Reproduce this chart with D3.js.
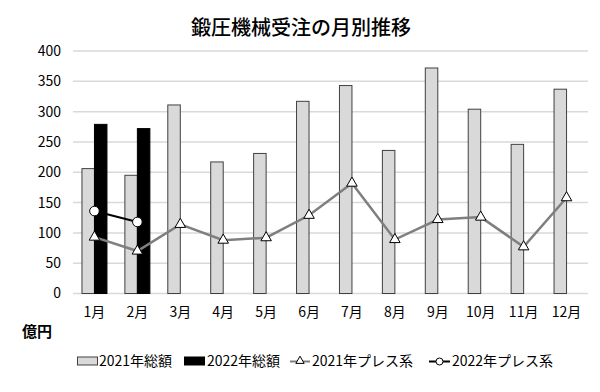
<!DOCTYPE html>
<html lang="ja">
  <head>
    <meta charset="utf-8" />
    <title>鍛圧機械受注の月別推移</title>
    <script src="https://d3js.org/d3.v7.min.js"></script>
    <style>
      body { margin: 0; background: #fff; }
      text { font-family: "Noto Sans CJK JP", "Noto Sans", sans-serif; fill: #000; }
    </style>
  </head>
  <body>
    <div id="chart"></div>
    <script>
      // Data (unit: 億円)
      const months = ["1月", "2月", "3月", "4月", "5月", "6月", "7月", "8月", "9月", "10月", "11月", "12月"];
      const total2021 = [206, 195, 311, 217, 231, 317, 343, 236, 372, 304, 246, 337];
      const total2022 = [279, 272];
      const press2021 = [93, 70, 114, 88, 92, 129, 182, 89, 122, 126, 77, 158];
      const press2022 = [136, 118];
      const yTicks = [0, 50, 100, 150, 200, 250, 300, 350, 400];

      const W = 600, H = 392;
      const plot = { left: 73, right: 588, top: 51, bottom: 293.5 };
      const barW = 12.5;

      const svg = d3.select("#chart").append("svg")
        .attr("width", W).attr("height", H);

      const x = d3.scaleBand().domain(months).range([plot.left, plot.right]);
      const y = d3.scaleLinear().domain([0, 400]).range([plot.bottom, plot.top]);
      const cx = (i) => x(months[i]) + x.bandwidth() / 2;

      // Title
      svg.append("text")
        .attr("x", 301).attr("y", 35)
        .attr("text-anchor", "middle")
        .style("font-size", "20px")
        .style("font-weight", 500)
        .text("鍛圧機械受注の月別推移");

      // Gridlines
      svg.append("g")
        .selectAll("line")
        .data(yTicks)
        .join("line")
        .attr("x1", plot.left).attr("x2", plot.right)
        .attr("y1", (d) => y(d)).attr("y2", (d) => y(d))
        .attr("stroke", "#d9d9d9")
        .attr("stroke-width", 1.5);

      // Y axis labels
      const yAxis = svg.append("g")
        .attr("transform", `translate(${plot.left},0)`)
        .call(d3.axisLeft(y).tickValues(yTicks).tickSize(0).tickPadding(12));
      yAxis.select(".domain").remove();
      yAxis.selectAll("text")
        .style("font-size", "14px")
        .style("font-family", "'Noto Sans CJK JP', sans-serif");

      // X axis labels
      const xAxis = svg.append("g")
        .attr("transform", `translate(0,${plot.bottom})`)
        .call(d3.axisBottom(x).tickSize(0).tickPadding(14));
      xAxis.select(".domain").remove();
      xAxis.selectAll("text")
        .style("font-size", "14px")
        .style("font-family", "'Noto Sans CJK JP', sans-serif");

      // Unit label
      svg.append("text")
        .attr("x", 22).attr("y", 337)
        .style("font-size", "15px")
        .style("font-weight", 700)
        .text("億円");

      // Bars 2021
      svg.append("g")
        .selectAll("rect")
        .data(total2021)
        .join("rect")
        .attr("x", (d, i) => cx(i) - barW)
        .attr("y", (d) => y(d))
        .attr("width", barW)
        .attr("height", (d) => y(0) - y(d))
        .attr("fill", "#d9d9d9")
        .attr("stroke", "#404040")
        .attr("stroke-width", 1);

      // Bars 2022
      svg.append("g")
        .selectAll("rect")
        .data(total2022)
        .join("rect")
        .attr("x", (d, i) => cx(i))
        .attr("y", (d) => y(d))
        .attr("width", barW)
        .attr("height", (d) => y(0) - y(d))
        .attr("fill", "#000")
        .attr("stroke", "#000")
        .attr("stroke-width", 1);

      const line = d3.line().x((d, i) => cx(i)).y((d) => y(d));
      const tri = d3.symbol().type(d3.symbolTriangle).size(48);

      // 2021 press line
      svg.append("path")
        .datum(press2021)
        .attr("d", line)
        .attr("fill", "none")
        .attr("stroke", "#7f7f7f")
        .attr("stroke-width", 2.5);
      svg.append("g")
        .selectAll("path")
        .data(press2021)
        .join("path")
        .attr("d", tri)
        .attr("transform", (d, i) => `translate(${cx(i)},${y(d)})`)
        .attr("fill", "#fff")
        .attr("stroke", "#000")
        .attr("stroke-width", 1);

      // 2022 press line
      svg.append("path")
        .datum(press2022)
        .attr("d", line)
        .attr("fill", "none")
        .attr("stroke", "#000")
        .attr("stroke-width", 2);
      svg.append("g")
        .selectAll("circle")
        .data(press2022)
        .join("circle")
        .attr("cx", (d, i) => cx(i))
        .attr("cy", (d) => y(d))
        .attr("r", 4.8)
        .attr("fill", "#fff")
        .attr("stroke", "#000")
        .attr("stroke-width", 1);

      // Legend
      const lg = svg.append("g").attr("transform", "translate(0,361)");
      const lgFont = "14px";

      lg.append("rect").attr("x", 77.5).attr("y", -4).attr("width", 20).attr("height", 8)
        .attr("fill", "#d9d9d9").attr("stroke", "#404040");
      lg.append("text").attr("x", 99).attr("y", 5).style("font-size", lgFont).text("2021年総額");

      lg.append("rect").attr("x", 184.5).attr("y", -4).attr("width", 20).attr("height", 8)
        .attr("fill", "#000").attr("stroke", "#000");
      lg.append("text").attr("x", 207).attr("y", 5).style("font-size", lgFont).text("2022年総額");

      lg.append("line").attr("x1", 290).attr("x2", 310).attr("y1", 0.5).attr("y2", 0.5)
        .attr("stroke", "#7f7f7f").attr("stroke-width", 2);
      lg.append("path").attr("d", d3.symbol().type(d3.symbolTriangle).size(30))
        .attr("transform", "translate(300,0)")
        .attr("fill", "#fff").attr("stroke", "#000");
      lg.append("text").attr("x", 312).attr("y", 5).style("font-size", lgFont).text("2021年プレス系");

      lg.append("line").attr("x1", 429).attr("x2", 450).attr("y1", 0.5).attr("y2", 0.5)
        .attr("stroke", "#000").attr("stroke-width", 2);
      lg.append("circle").attr("cx", 439.5).attr("cy", 0.5).attr("r", 3.5)
        .attr("fill", "#fff").attr("stroke", "#000");
      lg.append("text").attr("x", 452).attr("y", 5).style("font-size", lgFont).text("2022年プレス系");
    </script>
  </body>
</html>
